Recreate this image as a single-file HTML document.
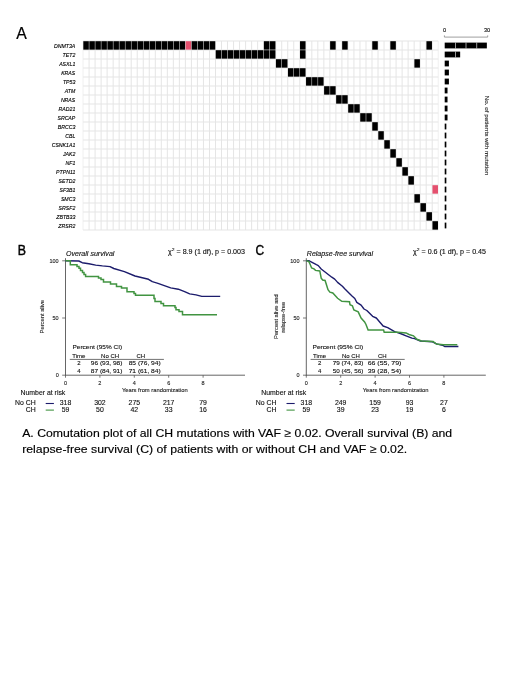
<!DOCTYPE html>
<html><head><meta charset="utf-8"><title>Figure</title>
<style>
html,body{margin:0;padding:0;background:#fff;}
body{width:520px;height:693px;overflow:hidden;}
svg{display:block;font-family:"Liberation Sans", sans-serif;will-change:transform;}
</style></head><body>
<svg width="520" height="693" viewBox="0 0 520 693">
<rect width="520" height="693" fill="#fff"/>
<g id="grid">
<line x1="83.05" y1="41.00" x2="83.05" y2="230.00" stroke="#f0f0f0" stroke-width="1"/>
<line x1="89.07" y1="41.00" x2="89.07" y2="230.00" stroke="#e5e5e5" stroke-width="1"/>
<line x1="95.09" y1="41.00" x2="95.09" y2="230.00" stroke="#e5e5e5" stroke-width="1"/>
<line x1="101.11" y1="41.00" x2="101.11" y2="230.00" stroke="#e5e5e5" stroke-width="1"/>
<line x1="107.13" y1="41.00" x2="107.13" y2="230.00" stroke="#e5e5e5" stroke-width="1"/>
<line x1="113.15" y1="41.00" x2="113.15" y2="230.00" stroke="#e5e5e5" stroke-width="1"/>
<line x1="119.17" y1="41.00" x2="119.17" y2="230.00" stroke="#e5e5e5" stroke-width="1"/>
<line x1="125.19" y1="41.00" x2="125.19" y2="230.00" stroke="#e5e5e5" stroke-width="1"/>
<line x1="131.21" y1="41.00" x2="131.21" y2="230.00" stroke="#e5e5e5" stroke-width="1"/>
<line x1="137.23" y1="41.00" x2="137.23" y2="230.00" stroke="#e5e5e5" stroke-width="1"/>
<line x1="143.25" y1="41.00" x2="143.25" y2="230.00" stroke="#e5e5e5" stroke-width="1"/>
<line x1="149.27" y1="41.00" x2="149.27" y2="230.00" stroke="#e5e5e5" stroke-width="1"/>
<line x1="155.29" y1="41.00" x2="155.29" y2="230.00" stroke="#e5e5e5" stroke-width="1"/>
<line x1="161.31" y1="41.00" x2="161.31" y2="230.00" stroke="#e5e5e5" stroke-width="1"/>
<line x1="167.33" y1="41.00" x2="167.33" y2="230.00" stroke="#e5e5e5" stroke-width="1"/>
<line x1="173.35" y1="41.00" x2="173.35" y2="230.00" stroke="#e5e5e5" stroke-width="1"/>
<line x1="179.37" y1="41.00" x2="179.37" y2="230.00" stroke="#e5e5e5" stroke-width="1"/>
<line x1="185.39" y1="41.00" x2="185.39" y2="230.00" stroke="#e5e5e5" stroke-width="1"/>
<line x1="191.41" y1="41.00" x2="191.41" y2="230.00" stroke="#e5e5e5" stroke-width="1"/>
<line x1="197.43" y1="41.00" x2="197.43" y2="230.00" stroke="#e5e5e5" stroke-width="1"/>
<line x1="203.45" y1="41.00" x2="203.45" y2="230.00" stroke="#e5e5e5" stroke-width="1"/>
<line x1="209.47" y1="41.00" x2="209.47" y2="230.00" stroke="#e5e5e5" stroke-width="1"/>
<line x1="215.49" y1="41.00" x2="215.49" y2="230.00" stroke="#e5e5e5" stroke-width="1"/>
<line x1="221.51" y1="41.00" x2="221.51" y2="230.00" stroke="#e5e5e5" stroke-width="1"/>
<line x1="227.53" y1="41.00" x2="227.53" y2="230.00" stroke="#e5e5e5" stroke-width="1"/>
<line x1="233.55" y1="41.00" x2="233.55" y2="230.00" stroke="#e5e5e5" stroke-width="1"/>
<line x1="239.57" y1="41.00" x2="239.57" y2="230.00" stroke="#e5e5e5" stroke-width="1"/>
<line x1="245.59" y1="41.00" x2="245.59" y2="230.00" stroke="#e5e5e5" stroke-width="1"/>
<line x1="251.61" y1="41.00" x2="251.61" y2="230.00" stroke="#e5e5e5" stroke-width="1"/>
<line x1="257.63" y1="41.00" x2="257.63" y2="230.00" stroke="#e5e5e5" stroke-width="1"/>
<line x1="263.65" y1="41.00" x2="263.65" y2="230.00" stroke="#e5e5e5" stroke-width="1"/>
<line x1="269.67" y1="41.00" x2="269.67" y2="230.00" stroke="#e5e5e5" stroke-width="1"/>
<line x1="275.69" y1="41.00" x2="275.69" y2="230.00" stroke="#e5e5e5" stroke-width="1"/>
<line x1="281.71" y1="41.00" x2="281.71" y2="230.00" stroke="#e5e5e5" stroke-width="1"/>
<line x1="287.73" y1="41.00" x2="287.73" y2="230.00" stroke="#e5e5e5" stroke-width="1"/>
<line x1="293.75" y1="41.00" x2="293.75" y2="230.00" stroke="#e5e5e5" stroke-width="1"/>
<line x1="299.77" y1="41.00" x2="299.77" y2="230.00" stroke="#e5e5e5" stroke-width="1"/>
<line x1="305.79" y1="41.00" x2="305.79" y2="230.00" stroke="#e5e5e5" stroke-width="1"/>
<line x1="311.81" y1="41.00" x2="311.81" y2="230.00" stroke="#e5e5e5" stroke-width="1"/>
<line x1="317.83" y1="41.00" x2="317.83" y2="230.00" stroke="#e5e5e5" stroke-width="1"/>
<line x1="323.85" y1="41.00" x2="323.85" y2="230.00" stroke="#e5e5e5" stroke-width="1"/>
<line x1="329.87" y1="41.00" x2="329.87" y2="230.00" stroke="#e5e5e5" stroke-width="1"/>
<line x1="335.89" y1="41.00" x2="335.89" y2="230.00" stroke="#e5e5e5" stroke-width="1"/>
<line x1="341.91" y1="41.00" x2="341.91" y2="230.00" stroke="#e5e5e5" stroke-width="1"/>
<line x1="347.93" y1="41.00" x2="347.93" y2="230.00" stroke="#e5e5e5" stroke-width="1"/>
<line x1="353.95" y1="41.00" x2="353.95" y2="230.00" stroke="#e5e5e5" stroke-width="1"/>
<line x1="359.97" y1="41.00" x2="359.97" y2="230.00" stroke="#e5e5e5" stroke-width="1"/>
<line x1="365.99" y1="41.00" x2="365.99" y2="230.00" stroke="#e5e5e5" stroke-width="1"/>
<line x1="372.01" y1="41.00" x2="372.01" y2="230.00" stroke="#e5e5e5" stroke-width="1"/>
<line x1="378.03" y1="41.00" x2="378.03" y2="230.00" stroke="#e5e5e5" stroke-width="1"/>
<line x1="384.05" y1="41.00" x2="384.05" y2="230.00" stroke="#e5e5e5" stroke-width="1"/>
<line x1="390.07" y1="41.00" x2="390.07" y2="230.00" stroke="#e5e5e5" stroke-width="1"/>
<line x1="396.09" y1="41.00" x2="396.09" y2="230.00" stroke="#e5e5e5" stroke-width="1"/>
<line x1="402.11" y1="41.00" x2="402.11" y2="230.00" stroke="#e5e5e5" stroke-width="1"/>
<line x1="408.13" y1="41.00" x2="408.13" y2="230.00" stroke="#e5e5e5" stroke-width="1"/>
<line x1="414.15" y1="41.00" x2="414.15" y2="230.00" stroke="#e5e5e5" stroke-width="1"/>
<line x1="420.17" y1="41.00" x2="420.17" y2="230.00" stroke="#e5e5e5" stroke-width="1"/>
<line x1="426.19" y1="41.00" x2="426.19" y2="230.00" stroke="#e5e5e5" stroke-width="1"/>
<line x1="432.21" y1="41.00" x2="432.21" y2="230.00" stroke="#e5e5e5" stroke-width="1"/>
<line x1="438.23" y1="41.00" x2="438.23" y2="230.00" stroke="#f0f0f0" stroke-width="1"/>
<line x1="83.05" y1="41.00" x2="438.23" y2="41.00" stroke="#e5e5e5" stroke-width="1"/>
<line x1="83.05" y1="50.00" x2="438.23" y2="50.00" stroke="#e5e5e5" stroke-width="1"/>
<line x1="83.05" y1="59.00" x2="438.23" y2="59.00" stroke="#e5e5e5" stroke-width="1"/>
<line x1="83.05" y1="68.00" x2="438.23" y2="68.00" stroke="#e5e5e5" stroke-width="1"/>
<line x1="83.05" y1="77.00" x2="438.23" y2="77.00" stroke="#e5e5e5" stroke-width="1"/>
<line x1="83.05" y1="86.00" x2="438.23" y2="86.00" stroke="#e5e5e5" stroke-width="1"/>
<line x1="83.05" y1="95.00" x2="438.23" y2="95.00" stroke="#e5e5e5" stroke-width="1"/>
<line x1="83.05" y1="104.00" x2="438.23" y2="104.00" stroke="#e5e5e5" stroke-width="1"/>
<line x1="83.05" y1="113.00" x2="438.23" y2="113.00" stroke="#e5e5e5" stroke-width="1"/>
<line x1="83.05" y1="122.00" x2="438.23" y2="122.00" stroke="#e5e5e5" stroke-width="1"/>
<line x1="83.05" y1="131.00" x2="438.23" y2="131.00" stroke="#e5e5e5" stroke-width="1"/>
<line x1="83.05" y1="140.00" x2="438.23" y2="140.00" stroke="#e5e5e5" stroke-width="1"/>
<line x1="83.05" y1="149.00" x2="438.23" y2="149.00" stroke="#e5e5e5" stroke-width="1"/>
<line x1="83.05" y1="158.00" x2="438.23" y2="158.00" stroke="#e5e5e5" stroke-width="1"/>
<line x1="83.05" y1="167.00" x2="438.23" y2="167.00" stroke="#e5e5e5" stroke-width="1"/>
<line x1="83.05" y1="176.00" x2="438.23" y2="176.00" stroke="#e5e5e5" stroke-width="1"/>
<line x1="83.05" y1="185.00" x2="438.23" y2="185.00" stroke="#e5e5e5" stroke-width="1"/>
<line x1="83.05" y1="194.00" x2="438.23" y2="194.00" stroke="#e5e5e5" stroke-width="1"/>
<line x1="83.05" y1="203.00" x2="438.23" y2="203.00" stroke="#e5e5e5" stroke-width="1"/>
<line x1="83.05" y1="212.00" x2="438.23" y2="212.00" stroke="#e5e5e5" stroke-width="1"/>
<line x1="83.05" y1="221.00" x2="438.23" y2="221.00" stroke="#e5e5e5" stroke-width="1"/>
<line x1="83.05" y1="230.00" x2="438.23" y2="230.00" stroke="#e5e5e5" stroke-width="1"/>
<rect x="83.30" y="41.20" width="5.52" height="8.45" fill="#000"/>
<rect x="89.32" y="41.20" width="5.52" height="8.45" fill="#000"/>
<rect x="95.34" y="41.20" width="5.52" height="8.45" fill="#000"/>
<rect x="101.36" y="41.20" width="5.52" height="8.45" fill="#000"/>
<rect x="107.38" y="41.20" width="5.52" height="8.45" fill="#000"/>
<rect x="113.40" y="41.20" width="5.52" height="8.45" fill="#000"/>
<rect x="119.42" y="41.20" width="5.52" height="8.45" fill="#000"/>
<rect x="125.44" y="41.20" width="5.52" height="8.45" fill="#000"/>
<rect x="131.46" y="41.20" width="5.52" height="8.45" fill="#000"/>
<rect x="137.48" y="41.20" width="5.52" height="8.45" fill="#000"/>
<rect x="143.50" y="41.20" width="5.52" height="8.45" fill="#000"/>
<rect x="149.52" y="41.20" width="5.52" height="8.45" fill="#000"/>
<rect x="155.54" y="41.20" width="5.52" height="8.45" fill="#000"/>
<rect x="161.56" y="41.20" width="5.52" height="8.45" fill="#000"/>
<rect x="167.58" y="41.20" width="5.52" height="8.45" fill="#000"/>
<rect x="173.60" y="41.20" width="5.52" height="8.45" fill="#000"/>
<rect x="179.62" y="41.20" width="5.52" height="8.45" fill="#000"/>
<rect x="185.64" y="41.20" width="5.52" height="8.45" fill="#e4506e"/>
<rect x="191.66" y="41.20" width="5.52" height="8.45" fill="#000"/>
<rect x="197.68" y="41.20" width="5.52" height="8.45" fill="#000"/>
<rect x="203.70" y="41.20" width="5.52" height="8.45" fill="#000"/>
<rect x="209.72" y="41.20" width="5.52" height="8.45" fill="#000"/>
<rect x="263.90" y="41.20" width="5.52" height="8.45" fill="#000"/>
<rect x="269.92" y="41.20" width="5.52" height="8.45" fill="#000"/>
<rect x="300.02" y="41.20" width="5.52" height="8.45" fill="#000"/>
<rect x="330.12" y="41.20" width="5.52" height="8.45" fill="#000"/>
<rect x="342.16" y="41.20" width="5.52" height="8.45" fill="#000"/>
<rect x="372.26" y="41.20" width="5.52" height="8.45" fill="#000"/>
<rect x="390.32" y="41.20" width="5.52" height="8.45" fill="#000"/>
<rect x="426.44" y="41.20" width="5.52" height="8.45" fill="#000"/>
<rect x="215.74" y="50.20" width="5.52" height="8.45" fill="#000"/>
<rect x="221.76" y="50.20" width="5.52" height="8.45" fill="#000"/>
<rect x="227.78" y="50.20" width="5.52" height="8.45" fill="#000"/>
<rect x="233.80" y="50.20" width="5.52" height="8.45" fill="#000"/>
<rect x="239.82" y="50.20" width="5.52" height="8.45" fill="#000"/>
<rect x="245.84" y="50.20" width="5.52" height="8.45" fill="#000"/>
<rect x="251.86" y="50.20" width="5.52" height="8.45" fill="#000"/>
<rect x="257.88" y="50.20" width="5.52" height="8.45" fill="#000"/>
<rect x="263.90" y="50.20" width="5.52" height="8.45" fill="#000"/>
<rect x="269.92" y="50.20" width="5.52" height="8.45" fill="#000"/>
<rect x="300.02" y="50.20" width="5.52" height="8.45" fill="#000"/>
<rect x="275.94" y="59.20" width="5.52" height="8.45" fill="#000"/>
<rect x="281.96" y="59.20" width="5.52" height="8.45" fill="#000"/>
<rect x="414.40" y="59.20" width="5.52" height="8.45" fill="#000"/>
<rect x="287.98" y="68.20" width="5.52" height="8.45" fill="#000"/>
<rect x="294.00" y="68.20" width="5.52" height="8.45" fill="#000"/>
<rect x="300.02" y="68.20" width="5.52" height="8.45" fill="#000"/>
<rect x="306.04" y="77.20" width="5.52" height="8.45" fill="#000"/>
<rect x="312.06" y="77.20" width="5.52" height="8.45" fill="#000"/>
<rect x="318.08" y="77.20" width="5.52" height="8.45" fill="#000"/>
<rect x="324.10" y="86.20" width="5.52" height="8.45" fill="#000"/>
<rect x="330.12" y="86.20" width="5.52" height="8.45" fill="#000"/>
<rect x="336.14" y="95.20" width="5.52" height="8.45" fill="#000"/>
<rect x="342.16" y="95.20" width="5.52" height="8.45" fill="#000"/>
<rect x="348.18" y="104.20" width="5.52" height="8.45" fill="#000"/>
<rect x="354.20" y="104.20" width="5.52" height="8.45" fill="#000"/>
<rect x="360.22" y="113.20" width="5.52" height="8.45" fill="#000"/>
<rect x="366.24" y="113.20" width="5.52" height="8.45" fill="#000"/>
<rect x="372.26" y="122.20" width="5.52" height="8.45" fill="#000"/>
<rect x="378.28" y="131.20" width="5.52" height="8.45" fill="#000"/>
<rect x="384.30" y="140.20" width="5.52" height="8.45" fill="#000"/>
<rect x="390.32" y="149.20" width="5.52" height="8.45" fill="#000"/>
<rect x="396.34" y="158.20" width="5.52" height="8.45" fill="#000"/>
<rect x="402.36" y="167.20" width="5.52" height="8.45" fill="#000"/>
<rect x="408.38" y="176.20" width="5.52" height="8.45" fill="#000"/>
<rect x="432.46" y="185.20" width="5.52" height="8.45" fill="#e4506e"/>
<rect x="414.40" y="194.20" width="5.52" height="8.45" fill="#000"/>
<rect x="420.42" y="203.20" width="5.52" height="8.45" fill="#000"/>
<rect x="426.44" y="212.20" width="5.52" height="8.45" fill="#000"/>
<rect x="432.46" y="221.20" width="5.52" height="8.45" fill="#000"/>
</g>
<text x="75.30" y="47.50" font-size="5.2" text-anchor="end" font-style="italic" stroke="#000" stroke-width="0.12" fill="#000" >DNMT3A</text>
<text x="75.30" y="56.50" font-size="5.2" text-anchor="end" font-style="italic" stroke="#000" stroke-width="0.12" fill="#000" >TET2</text>
<text x="75.30" y="65.50" font-size="5.2" text-anchor="end" font-style="italic" stroke="#000" stroke-width="0.12" fill="#000" >ASXL1</text>
<text x="75.30" y="74.50" font-size="5.2" text-anchor="end" font-style="italic" stroke="#000" stroke-width="0.12" fill="#000" >KRAS</text>
<text x="75.30" y="83.50" font-size="5.2" text-anchor="end" font-style="italic" stroke="#000" stroke-width="0.12" fill="#000" >TP53</text>
<text x="75.30" y="92.50" font-size="5.2" text-anchor="end" font-style="italic" stroke="#000" stroke-width="0.12" fill="#000" >ATM</text>
<text x="75.30" y="101.50" font-size="5.2" text-anchor="end" font-style="italic" stroke="#000" stroke-width="0.12" fill="#000" >NRAS</text>
<text x="75.30" y="110.50" font-size="5.2" text-anchor="end" font-style="italic" stroke="#000" stroke-width="0.12" fill="#000" >RAD21</text>
<text x="75.30" y="119.50" font-size="5.2" text-anchor="end" font-style="italic" stroke="#000" stroke-width="0.12" fill="#000" >SRCAP</text>
<text x="75.30" y="128.50" font-size="5.2" text-anchor="end" font-style="italic" stroke="#000" stroke-width="0.12" fill="#000" >BRCC3</text>
<text x="75.30" y="137.50" font-size="5.2" text-anchor="end" font-style="italic" stroke="#000" stroke-width="0.12" fill="#000" >CBL</text>
<text x="75.30" y="146.50" font-size="5.2" text-anchor="end" font-style="italic" stroke="#000" stroke-width="0.12" fill="#000" >CSNK1A1</text>
<text x="75.30" y="155.50" font-size="5.2" text-anchor="end" font-style="italic" stroke="#000" stroke-width="0.12" fill="#000" >JAK2</text>
<text x="75.30" y="164.50" font-size="5.2" text-anchor="end" font-style="italic" stroke="#000" stroke-width="0.12" fill="#000" >NF1</text>
<text x="75.30" y="173.50" font-size="5.2" text-anchor="end" font-style="italic" stroke="#000" stroke-width="0.12" fill="#000" >PTPN11</text>
<text x="75.30" y="182.50" font-size="5.2" text-anchor="end" font-style="italic" stroke="#000" stroke-width="0.12" fill="#000" >SETD2</text>
<text x="75.30" y="191.50" font-size="5.2" text-anchor="end" font-style="italic" stroke="#000" stroke-width="0.12" fill="#000" >SF3B1</text>
<text x="75.30" y="200.50" font-size="5.2" text-anchor="end" font-style="italic" stroke="#000" stroke-width="0.12" fill="#000" >SMC3</text>
<text x="75.30" y="209.50" font-size="5.2" text-anchor="end" font-style="italic" stroke="#000" stroke-width="0.12" fill="#000" >SRSF2</text>
<text x="75.30" y="218.50" font-size="5.2" text-anchor="end" font-style="italic" stroke="#000" stroke-width="0.12" fill="#000" >ZBTB33</text>
<text x="75.30" y="227.50" font-size="5.2" text-anchor="end" font-style="italic" stroke="#000" stroke-width="0.12" fill="#000" >ZRSR2</text>
<text x="16.20" y="38.90" font-size="15.8" text-anchor="start" stroke="#000" stroke-width="0.2" fill="#000" >A</text>
<rect x="444.70" y="42.60" width="42.15" height="5.8" fill="#000"/>
<rect x="444.70" y="51.60" width="15.46" height="5.8" fill="#000"/>
<rect x="444.70" y="60.60" width="4.21" height="5.8" fill="#000"/>
<rect x="444.70" y="69.60" width="4.21" height="5.8" fill="#000"/>
<rect x="444.70" y="78.60" width="4.21" height="5.8" fill="#000"/>
<rect x="444.70" y="87.60" width="2.81" height="5.8" fill="#000"/>
<rect x="444.70" y="96.60" width="2.81" height="5.8" fill="#000"/>
<rect x="444.70" y="105.60" width="2.81" height="5.8" fill="#000"/>
<rect x="444.70" y="114.60" width="2.81" height="5.8" fill="#000"/>
<rect x="444.70" y="123.60" width="1.65" height="5.8" fill="#000"/>
<rect x="444.70" y="132.60" width="1.65" height="5.8" fill="#000"/>
<rect x="444.70" y="141.60" width="1.65" height="5.8" fill="#000"/>
<rect x="444.70" y="150.60" width="1.65" height="5.8" fill="#000"/>
<rect x="444.70" y="159.60" width="1.65" height="5.8" fill="#000"/>
<rect x="444.70" y="168.60" width="1.65" height="5.8" fill="#000"/>
<rect x="444.70" y="177.60" width="1.65" height="5.8" fill="#000"/>
<rect x="444.70" y="186.60" width="1.65" height="5.8" fill="#000"/>
<rect x="444.70" y="195.60" width="1.65" height="5.8" fill="#000"/>
<rect x="444.70" y="204.60" width="1.65" height="5.8" fill="#000"/>
<rect x="444.70" y="213.60" width="1.65" height="5.8" fill="#000"/>
<rect x="444.70" y="222.60" width="1.65" height="5.8" fill="#000"/>
<line x1="455.5" y1="42.6" x2="455.5" y2="48.4" stroke="#fff" stroke-width="0.6"/>
<line x1="466.0" y1="42.6" x2="466.0" y2="48.4" stroke="#fff" stroke-width="0.6"/>
<line x1="476.7" y1="42.6" x2="476.7" y2="48.4" stroke="#fff" stroke-width="0.6"/>
<line x1="455.5" y1="51.6" x2="455.5" y2="57.4" stroke="#fff" stroke-width="0.6"/>
<path d="M444.4 35.4 V37.1 H487.7 V35.4" fill="none" stroke="#888" stroke-width="0.8"/>
<text x="444.50" y="32.10" font-size="5.6" text-anchor="middle" stroke="#000" stroke-width="0.1" fill="#000" >0</text>
<text x="487.00" y="32.10" font-size="5.6" text-anchor="middle" stroke="#000" stroke-width="0.1" fill="#000" >30</text>
<text transform="translate(484.9,135.4) rotate(90)" font-size="5.7" text-anchor="middle" fill="#111" stroke="#111" stroke-width="0.1" textLength="79.5" lengthAdjust="spacingAndGlyphs">No. of patients with mutation</text>
<line x1="65.5" y1="258.2" x2="65.5" y2="375.59999999999997" stroke="#555" stroke-width="0.9"/>
<line x1="65.1" y1="375.2" x2="245.0" y2="375.2" stroke="#555" stroke-width="0.9"/>
<line x1="62.2" y1="260.8" x2="65.5" y2="260.8" stroke="#555" stroke-width="0.8"/>
<text x="58.70" y="262.80" font-size="5.5" text-anchor="end" stroke="#222" stroke-width="0.12" fill="#222" >100</text>
<line x1="62.2" y1="318.0" x2="65.5" y2="318.0" stroke="#555" stroke-width="0.8"/>
<text x="58.70" y="320.00" font-size="5.5" text-anchor="end" stroke="#222" stroke-width="0.12" fill="#222" >50</text>
<line x1="62.2" y1="375.2" x2="65.5" y2="375.2" stroke="#555" stroke-width="0.8"/>
<text x="58.70" y="377.20" font-size="5.5" text-anchor="end" stroke="#222" stroke-width="0.12" fill="#222" >0</text>
<line x1="65.50" y1="375.2" x2="65.50" y2="377.7" stroke="#555" stroke-width="0.8"/>
<text x="65.50" y="384.50" font-size="5.5" text-anchor="middle" stroke="#222" stroke-width="0.12" fill="#222" >0</text>
<line x1="99.90" y1="375.2" x2="99.90" y2="377.7" stroke="#555" stroke-width="0.8"/>
<text x="99.90" y="384.50" font-size="5.5" text-anchor="middle" stroke="#222" stroke-width="0.12" fill="#222" >2</text>
<line x1="134.30" y1="375.2" x2="134.30" y2="377.7" stroke="#555" stroke-width="0.8"/>
<text x="134.30" y="384.50" font-size="5.5" text-anchor="middle" stroke="#222" stroke-width="0.12" fill="#222" >4</text>
<line x1="168.70" y1="375.2" x2="168.70" y2="377.7" stroke="#555" stroke-width="0.8"/>
<text x="168.70" y="384.50" font-size="5.5" text-anchor="middle" stroke="#222" stroke-width="0.12" fill="#222" >6</text>
<line x1="203.10" y1="375.2" x2="203.10" y2="377.7" stroke="#555" stroke-width="0.8"/>
<text x="203.10" y="384.50" font-size="5.5" text-anchor="middle" stroke="#222" stroke-width="0.12" fill="#222" >8</text>
<text x="154.80" y="391.60" font-size="5.8" text-anchor="middle" stroke="#222" stroke-width="0.12" fill="#222" >Years from randomization</text>
<text x="66.00" y="255.60" font-size="6.6" text-anchor="start" font-style="italic" textLength="48.40" lengthAdjust="spacingAndGlyphs" stroke="#111" stroke-width="0.12" fill="#111" >Overall survival</text>
<text x="168.0" y="254.2" font-size="6.3" fill="#111" stroke="#111" stroke-width="0.12" textLength="77.0" lengthAdjust="spacingAndGlyphs">&#967;<tspan dy="-3.3" font-size="4.4">2</tspan><tspan dy="3.3"> = 8.9 (1 df), p = 0.003</tspan></text>
<text transform="translate(44.2,316.7) rotate(-90)" font-size="5.8" text-anchor="middle" fill="#222" stroke="#222" stroke-width="0.1">Percent alive</text>
<polyline points="65.5,260.8 78.8,261.0 82.2,262.7 88.9,263.7 95.7,265.1 102.4,265.9 110.0,266.6 113.8,268.5 124.4,271.6 135.0,276.0 148.5,279.3 152.3,281.7 158.0,283.3 164.3,285.6 170.7,287.9 178.3,289.2 184.6,291.7 189.7,293.9 196.0,294.9 201.8,296.4 220.2,296.4" fill="none" stroke="#1c1c6c" stroke-width="1.4" stroke-linejoin="round"/>
<polyline points="65.5,260.8 70.3,260.8 70.3,264.8 77.0,264.8 77.0,266.5 79.0,266.5 79.0,268.3 80.5,268.3 80.5,270.4 82.5,270.4 82.5,272.5 84.0,272.5 84.0,274.5 85.6,274.5 85.6,276.4 98.5,276.4 98.5,278.1 101.0,278.1 101.0,279.5 103.5,279.5 103.5,282.0 110.5,282.0 110.5,284.1 116.5,284.1 116.5,286.5 121.5,286.5 121.5,288.0 127.0,288.0 127.0,291.8 134.0,291.8 134.0,293.5 135.5,293.5 135.5,295.2 154.0,295.2 154.0,298.5 155.0,298.5 155.0,301.6 161.0,301.6 161.0,303.5 163.5,303.5 163.5,305.7 175.0,305.7 175.0,307.5 176.0,307.5 176.0,309.7 179.0,309.7 179.0,311.6 182.5,311.6 182.5,314.8 217.0,314.8" fill="none" stroke="#419441" stroke-width="1.5" stroke-linejoin="miter"/>
<text x="72.50" y="349.30" font-size="6.0" text-anchor="start" textLength="49.60" lengthAdjust="spacingAndGlyphs" stroke="#111" stroke-width="0.12" fill="#111" >Percent (95% CI)</text>
<text x="72.30" y="357.60" font-size="6.0" text-anchor="start" stroke="#111" stroke-width="0.12" fill="#111" >Time</text>
<text x="110.10" y="357.60" font-size="6.0" text-anchor="middle" stroke="#111" stroke-width="0.12" fill="#111" >No CH</text>
<text x="140.80" y="357.60" font-size="6.0" text-anchor="middle" stroke="#111" stroke-width="0.12" fill="#111" >CH</text>
<line x1="69.8" y1="359.4" x2="163.9" y2="359.4" stroke="#333" stroke-width="0.7"/>
<text x="78.80" y="365.40" font-size="6.0" text-anchor="middle" stroke="#111" stroke-width="0.12" fill="#111" >2</text>
<text x="90.80" y="365.40" font-size="6.0" text-anchor="start" textLength="31.60" lengthAdjust="spacingAndGlyphs" stroke="#111" stroke-width="0.12" fill="#111" >96 (93, 98)</text>
<text x="128.70" y="365.40" font-size="6.0" text-anchor="start" textLength="32.00" lengthAdjust="spacingAndGlyphs" stroke="#111" stroke-width="0.12" fill="#111" >85 (76, 94)</text>
<text x="78.80" y="373.10" font-size="6.0" text-anchor="middle" stroke="#111" stroke-width="0.12" fill="#111" >4</text>
<text x="90.80" y="373.10" font-size="6.0" text-anchor="start" textLength="31.60" lengthAdjust="spacingAndGlyphs" stroke="#111" stroke-width="0.12" fill="#111" >87 (84, 91)</text>
<text x="128.70" y="373.10" font-size="6.0" text-anchor="start" textLength="32.00" lengthAdjust="spacingAndGlyphs" stroke="#111" stroke-width="0.12" fill="#111" >71 (61, 84)</text>
<text x="20.50" y="394.90" font-size="6.9" text-anchor="start" stroke="#111" stroke-width="0.12" fill="#111" >Number at risk</text>
<text x="35.70" y="405.20" font-size="6.9" text-anchor="end" stroke="#111" stroke-width="0.12" fill="#111" >No CH</text>
<text x="35.70" y="412.00" font-size="6.9" text-anchor="end" stroke="#111" stroke-width="0.12" fill="#111" >CH</text>
<line x1="45.7" y1="403.5" x2="53.9" y2="403.5" stroke="#1c1c6c" stroke-width="1.1"/>
<line x1="45.7" y1="410.1" x2="53.9" y2="410.1" stroke="#419441" stroke-width="1.1"/>
<text x="65.50" y="405.20" font-size="6.9" text-anchor="middle" stroke="#111" stroke-width="0.12" fill="#111" >318</text>
<text x="65.50" y="412.00" font-size="6.9" text-anchor="middle" stroke="#111" stroke-width="0.12" fill="#111" >59</text>
<text x="99.90" y="405.20" font-size="6.9" text-anchor="middle" stroke="#111" stroke-width="0.12" fill="#111" >302</text>
<text x="99.90" y="412.00" font-size="6.9" text-anchor="middle" stroke="#111" stroke-width="0.12" fill="#111" >50</text>
<text x="134.30" y="405.20" font-size="6.9" text-anchor="middle" stroke="#111" stroke-width="0.12" fill="#111" >275</text>
<text x="134.30" y="412.00" font-size="6.9" text-anchor="middle" stroke="#111" stroke-width="0.12" fill="#111" >42</text>
<text x="168.70" y="405.20" font-size="6.9" text-anchor="middle" stroke="#111" stroke-width="0.12" fill="#111" >217</text>
<text x="168.70" y="412.00" font-size="6.9" text-anchor="middle" stroke="#111" stroke-width="0.12" fill="#111" >33</text>
<text x="203.10" y="405.20" font-size="6.9" text-anchor="middle" stroke="#111" stroke-width="0.12" fill="#111" >79</text>
<text x="203.10" y="412.00" font-size="6.9" text-anchor="middle" stroke="#111" stroke-width="0.12" fill="#111" >16</text>
<line x1="306.3" y1="258.2" x2="306.3" y2="375.59999999999997" stroke="#555" stroke-width="0.9"/>
<line x1="305.90000000000003" y1="375.2" x2="485.8" y2="375.2" stroke="#555" stroke-width="0.9"/>
<line x1="303.0" y1="260.8" x2="306.3" y2="260.8" stroke="#555" stroke-width="0.8"/>
<text x="299.50" y="262.80" font-size="5.5" text-anchor="end" stroke="#222" stroke-width="0.12" fill="#222" >100</text>
<line x1="303.0" y1="318.0" x2="306.3" y2="318.0" stroke="#555" stroke-width="0.8"/>
<text x="299.50" y="320.00" font-size="5.5" text-anchor="end" stroke="#222" stroke-width="0.12" fill="#222" >50</text>
<line x1="303.0" y1="375.2" x2="306.3" y2="375.2" stroke="#555" stroke-width="0.8"/>
<text x="299.50" y="377.20" font-size="5.5" text-anchor="end" stroke="#222" stroke-width="0.12" fill="#222" >0</text>
<line x1="306.30" y1="375.2" x2="306.30" y2="377.7" stroke="#555" stroke-width="0.8"/>
<text x="306.30" y="384.50" font-size="5.5" text-anchor="middle" stroke="#222" stroke-width="0.12" fill="#222" >0</text>
<line x1="340.70" y1="375.2" x2="340.70" y2="377.7" stroke="#555" stroke-width="0.8"/>
<text x="340.70" y="384.50" font-size="5.5" text-anchor="middle" stroke="#222" stroke-width="0.12" fill="#222" >2</text>
<line x1="375.10" y1="375.2" x2="375.10" y2="377.7" stroke="#555" stroke-width="0.8"/>
<text x="375.10" y="384.50" font-size="5.5" text-anchor="middle" stroke="#222" stroke-width="0.12" fill="#222" >4</text>
<line x1="409.50" y1="375.2" x2="409.50" y2="377.7" stroke="#555" stroke-width="0.8"/>
<text x="409.50" y="384.50" font-size="5.5" text-anchor="middle" stroke="#222" stroke-width="0.12" fill="#222" >6</text>
<line x1="443.90" y1="375.2" x2="443.90" y2="377.7" stroke="#555" stroke-width="0.8"/>
<text x="443.90" y="384.50" font-size="5.5" text-anchor="middle" stroke="#222" stroke-width="0.12" fill="#222" >8</text>
<text x="395.60" y="391.60" font-size="5.8" text-anchor="middle" stroke="#222" stroke-width="0.12" fill="#222" >Years from randomization</text>
<text x="306.80" y="255.60" font-size="6.6" text-anchor="start" font-style="italic" textLength="66.20" lengthAdjust="spacingAndGlyphs" stroke="#111" stroke-width="0.12" fill="#111" >Relapse-free survival</text>
<text x="413.0" y="254.2" font-size="6.3" fill="#111" stroke="#111" stroke-width="0.12" textLength="73.0" lengthAdjust="spacingAndGlyphs">&#967;<tspan dy="-3.3" font-size="4.4">2</tspan><tspan dy="3.3"> = 0.6 (1 df), p = 0.45</tspan></text>
<text transform="translate(277.9,316.6) rotate(-90)" font-size="5.8" text-anchor="middle" fill="#222" stroke="#222" stroke-width="0.1">Percent alive and</text>
<text transform="translate(285.4,317.3) rotate(-90)" font-size="5.8" text-anchor="middle" fill="#222" stroke="#222" stroke-width="0.1">relapse-free</text>
<polyline points="306.3,260.8 309.2,260.8 316.4,264.7 318.3,265.6 321.2,269.0 331.8,277.2 334.7,279.1 337.6,282.4 342.4,286.3 344.7,288.8 352.0,295.9 354.8,298.5 356.8,302.3 361.1,305.2 364.0,309.0 366.8,310.5 372.6,316.3 376.3,318.0 383.1,326.0 387.7,327.7 394.6,331.7 400.4,333.5 406.1,335.8 411.9,338.1 414.6,338.6 420.4,341.0 432.5,341.8 436.5,343.9 443.4,345.6 444.6,346.5 458.4,346.5" fill="none" stroke="#1c1c6c" stroke-width="1.4" stroke-linejoin="round"/>
<polyline points="306.3,260.8 308.7,261.3 310.0,264.0 311.6,268.0 314.0,268.9 315.5,270.4 319.8,270.9 321.2,278.1 322.7,280.0 325.1,280.5 328.0,289.7 329.9,292.1 332.8,293.0 337.6,298.3 341.8,301.3 349.5,301.8 350.0,304.7 352.4,305.7 353.9,310.0 358.2,311.9 361.1,318.0 364.6,321.9 366.0,324.5 368.1,330.0 383.6,330.0 384.2,332.3 398.0,332.3 406.1,332.9 409.0,334.5 413.5,335.8 416.9,339.3 421.5,341.0 433.1,341.6 436.5,344.1 443.4,344.8 457.3,344.8" fill="none" stroke="#419441" stroke-width="1.5" stroke-linejoin="miter"/>
<text x="312.50" y="349.30" font-size="6.0" text-anchor="start" textLength="50.80" lengthAdjust="spacingAndGlyphs" stroke="#111" stroke-width="0.12" fill="#111" >Percent (95% CI)</text>
<text x="313.10" y="357.60" font-size="6.0" text-anchor="start" stroke="#111" stroke-width="0.12" fill="#111" >Time</text>
<text x="350.90" y="357.60" font-size="6.0" text-anchor="middle" stroke="#111" stroke-width="0.12" fill="#111" >No CH</text>
<text x="382.30" y="357.60" font-size="6.0" text-anchor="middle" stroke="#111" stroke-width="0.12" fill="#111" >CH</text>
<line x1="310.6" y1="359.4" x2="404.70000000000005" y2="359.4" stroke="#333" stroke-width="0.7"/>
<text x="319.60" y="365.40" font-size="6.0" text-anchor="middle" stroke="#111" stroke-width="0.12" fill="#111" >2</text>
<text x="332.70" y="365.40" font-size="6.0" text-anchor="start" textLength="30.60" lengthAdjust="spacingAndGlyphs" stroke="#111" stroke-width="0.12" fill="#111" >79 (74, 83)</text>
<text x="367.70" y="365.40" font-size="6.0" text-anchor="start" textLength="33.70" lengthAdjust="spacingAndGlyphs" stroke="#111" stroke-width="0.12" fill="#111" >66 (55, 79)</text>
<text x="319.60" y="373.10" font-size="6.0" text-anchor="middle" stroke="#111" stroke-width="0.12" fill="#111" >4</text>
<text x="332.70" y="373.10" font-size="6.0" text-anchor="start" textLength="30.60" lengthAdjust="spacingAndGlyphs" stroke="#111" stroke-width="0.12" fill="#111" >50 (45, 56)</text>
<text x="367.70" y="373.10" font-size="6.0" text-anchor="start" textLength="33.70" lengthAdjust="spacingAndGlyphs" stroke="#111" stroke-width="0.12" fill="#111" >39 (28, 54)</text>
<text x="261.30" y="394.90" font-size="6.9" text-anchor="start" stroke="#111" stroke-width="0.12" fill="#111" >Number at risk</text>
<text x="276.50" y="405.20" font-size="6.9" text-anchor="end" stroke="#111" stroke-width="0.12" fill="#111" >No CH</text>
<text x="276.50" y="412.00" font-size="6.9" text-anchor="end" stroke="#111" stroke-width="0.12" fill="#111" >CH</text>
<line x1="286.5" y1="403.5" x2="294.7" y2="403.5" stroke="#1c1c6c" stroke-width="1.1"/>
<line x1="286.5" y1="410.1" x2="294.7" y2="410.1" stroke="#419441" stroke-width="1.1"/>
<text x="306.30" y="405.20" font-size="6.9" text-anchor="middle" stroke="#111" stroke-width="0.12" fill="#111" >318</text>
<text x="306.30" y="412.00" font-size="6.9" text-anchor="middle" stroke="#111" stroke-width="0.12" fill="#111" >59</text>
<text x="340.70" y="405.20" font-size="6.9" text-anchor="middle" stroke="#111" stroke-width="0.12" fill="#111" >249</text>
<text x="340.70" y="412.00" font-size="6.9" text-anchor="middle" stroke="#111" stroke-width="0.12" fill="#111" >39</text>
<text x="375.10" y="405.20" font-size="6.9" text-anchor="middle" stroke="#111" stroke-width="0.12" fill="#111" >159</text>
<text x="375.10" y="412.00" font-size="6.9" text-anchor="middle" stroke="#111" stroke-width="0.12" fill="#111" >23</text>
<text x="409.50" y="405.20" font-size="6.9" text-anchor="middle" stroke="#111" stroke-width="0.12" fill="#111" >93</text>
<text x="409.50" y="412.00" font-size="6.9" text-anchor="middle" stroke="#111" stroke-width="0.12" fill="#111" >19</text>
<text x="443.90" y="405.20" font-size="6.9" text-anchor="middle" stroke="#111" stroke-width="0.12" fill="#111" >27</text>
<text x="443.90" y="412.00" font-size="6.9" text-anchor="middle" stroke="#111" stroke-width="0.12" fill="#111" >6</text>
<text x="17.8" y="254.6" font-size="14" fill="#000" stroke="#000" stroke-width="0.45" textLength="8.2" lengthAdjust="spacingAndGlyphs">B</text>
<text x="255.5" y="254.7" font-size="14.8" fill="#000" stroke="#000" stroke-width="0.45" textLength="8.6" lengthAdjust="spacingAndGlyphs">C</text>
<text x="22.2" y="436.8" font-size="11.3" fill="#000" stroke="#000" stroke-width="0.15" textLength="430" lengthAdjust="spacingAndGlyphs">A. Comutation plot of all CH mutations with VAF &#8805; 0.02. Overall survival (B) and</text>
<text x="22.2" y="452.6" font-size="11.3" fill="#000" stroke="#000" stroke-width="0.15" textLength="385" lengthAdjust="spacingAndGlyphs">relapse-free survival (C) of patients with or without CH and VAF &#8805; 0.02.</text>
</svg>
</body></html>
